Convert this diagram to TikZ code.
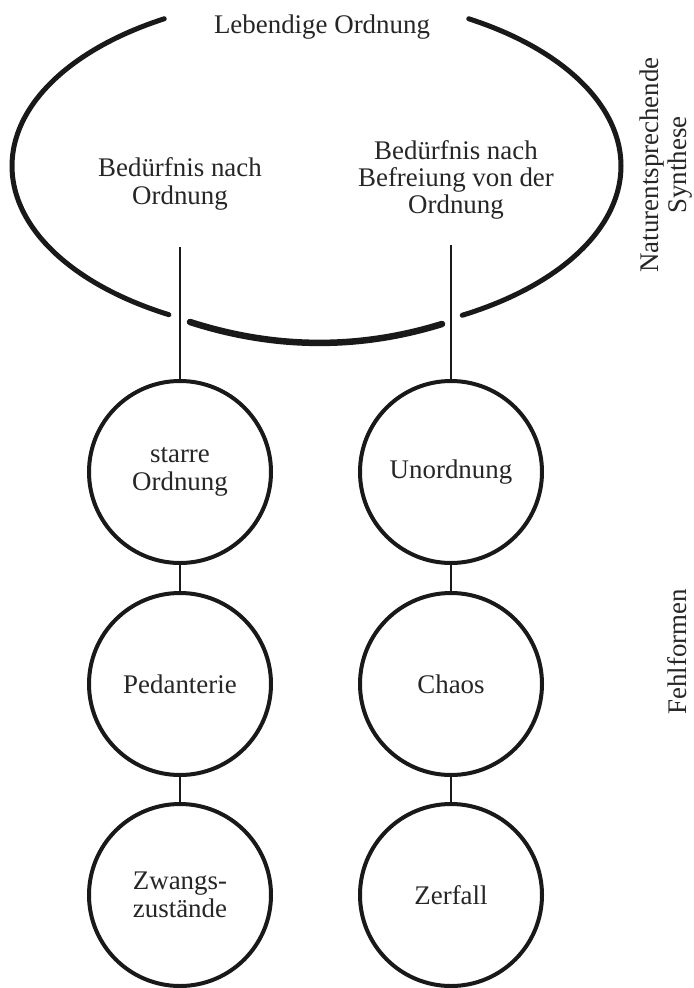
\documentclass[tikz,border=0pt]{standalone}
\usepackage{fontspec}
\setmainfont{Liberation Serif}
\begin{document}
\begin{tikzpicture}[x=1bp,y=-1bp,
  txt/.style={font=\fontsize{27}{27.5}\selectfont, text=black!85, align=center},
  ring/.style={line width=5bp, line cap=round, draw=black!90},
  bubble/.style={txt, circle, draw=black!90, line width=4bp, minimum size=182bp, inner sep=0pt},
  link/.style={line width=2.4bp, draw=black!90}]
\fill[white] (0,0) rectangle (694,988);
\useasboundingbox (0,0) rectangle (694,988);

% outer open ellipse
\draw[ring, domain=119:240, samples=90, variable=\t]
  plot ({316.5+304.5*cos(\t)}, {166+170*sin(\t)});
\draw[ring, domain=-60:61.4, samples=90, variable=\t]
  plot ({316.5+304.5*cos(\t)}, {166+170*sin(\t)});
\draw[ring, line width=6.5bp] (190,322) .. controls (274,349) and (358,350) .. (442,324);

% texts
\node[txt, anchor=base] (top) at (322,33) {Lebendige Ordnung};
\node[txt] (needL) at (180,184) {Bedürfnis nach\\Ordnung};
\node[txt] (needR) at (456,180) {Bedürfnis nach\\Befreiung von der\\Ordnung};
\node[txt, rotate=90, inner sep=0pt] (synth) at (666,165) {Naturentsprechende\\Synthese};
\node[txt, rotate=90, inner sep=0pt] (fehl) at (677,652) {Fehlformen};

% circles
\node[bubble] (c1) at (180,472) {starre\\Ordnung};
\node[bubble] (c2) at (180,684) {Pedanterie};
\node[bubble] (c3) at (180,895) {Zwangs-\\zustände};
\node[bubble] (d1) at (451,472) {Unordnung};
\node[bubble] (d2) at (451,684) {Chaos};
\node[bubble] (d3) at (451,895) {Zerfall};

% connectors
\coordinate (lt) at (180,247);
\coordinate (rt) at (451,245);
\draw[link] (lt) -- (c1.north);
\draw[link] (rt) -- (d1.north);
\draw[link] (c1) -- (c2);
\draw[link] (c2) -- (c3);
\draw[link] (d1) -- (d2);
\draw[link] (d2) -- (d3);
\end{tikzpicture}
\end{document}
